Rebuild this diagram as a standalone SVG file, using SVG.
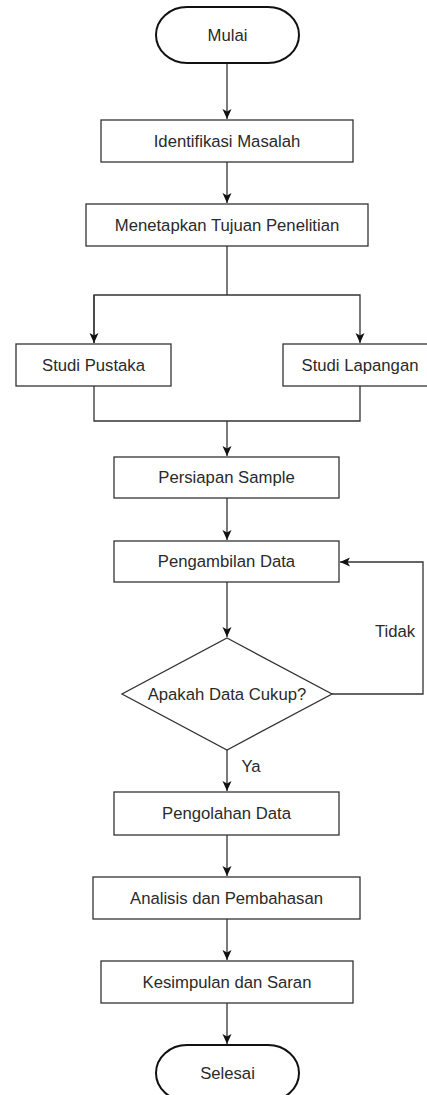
<svg xmlns="http://www.w3.org/2000/svg" width="427" height="1095" viewBox="0 0 427 1095">
<style>
.box{fill:#fff;stroke:#333;stroke-width:1.3}
.term{fill:#fff;stroke:#111;stroke-width:2}
.lbl{font-family:"Liberation Sans",Arial,sans-serif;font-size:16.7px;fill:#2a2a2a;text-anchor:middle;dominant-baseline:central}
.edge{fill:none;stroke:#333;stroke-width:1.3}
</style>
<defs>
<marker id="arr" markerUnits="userSpaceOnUse" markerWidth="12" markerHeight="12" viewBox="0 0 12 12" refX="10" refY="6" orient="auto">
<path d="M0,1.5 L10,6 L0,10.5 L2.5,6 Z" fill="#111"/>
</marker>
</defs>
<rect width="427" height="1095" fill="#fff"/>
<g id="connectors">
<path class="edge" d="M227,63 V119" marker-end="url(#arr)"/>
<path class="edge" d="M227,162 V203" marker-end="url(#arr)"/>
<path class="edge" d="M227,246 V295"/>
<path class="edge" d="M94,343 V295 H360 V343" marker-end="url(#arr)"/>
<path class="edge" d="M94,295 V343" marker-end="url(#arr)"/>
<path class="edge" d="M94,386 V421 H360 V386"/>
<path class="edge" d="M227,421 V456" marker-end="url(#arr)"/>
<path class="edge" d="M227,498 V540" marker-end="url(#arr)"/>
<path class="edge" d="M227,582 V637" marker-end="url(#arr)"/>
<path class="edge" d="M332,694 H423 V562 H340" marker-end="url(#arr)"/>
<path class="edge" d="M227,750 V791" marker-end="url(#arr)"/>
<path class="edge" d="M227,835 V876" marker-end="url(#arr)"/>
<path class="edge" d="M227,919 V960" marker-end="url(#arr)"/>
<path class="edge" d="M227,1003 V1044" marker-end="url(#arr)"/>
<text class="lbl" x="395" y="631">Tidak</text>
<text class="lbl" x="251" y="766">Ya</text>
</g>
<g id="mulai">
<path class="term" d="M187,7 H268 A31,28 0 0 1 268,63 H187 A31,28 0 0 1 187,7 Z"/>
<text class="lbl" x="227.5" y="35">Mulai</text>
</g>
<g id="identifikasi">
<rect class="box" x="101" y="120" width="252" height="42"/>
<text class="lbl" x="227" y="141">Identifikasi Masalah</text>
</g>
<g id="menetapkan">
<rect class="box" x="86" y="204" width="282" height="42"/>
<text class="lbl" x="227" y="225">Menetapkan Tujuan Penelitian</text>
</g>
<g id="pustaka">
<rect class="box" x="16" y="344" width="155" height="42"/>
<text class="lbl" x="93.5" y="365">Studi Pustaka</text>
</g>
<g id="lapangan">
<rect class="box" x="283" y="344" width="155" height="42"/>
<text class="lbl" x="360" y="365">Studi Lapangan</text>
</g>
<g id="persiapan">
<rect class="box" x="114" y="457" width="225" height="41"/>
<text class="lbl" x="226.5" y="477.5">Persiapan Sample</text>
</g>
<g id="pengambilan">
<rect class="box" x="114" y="541" width="225" height="41"/>
<text class="lbl" x="226.5" y="561.5">Pengambilan Data</text>
</g>
<g id="cukup">
<path class="box" d="M227,638 L332,694 L227,750 L122,694 Z"/>
<text class="lbl" x="227" y="694">Apakah Data Cukup?</text>
</g>
<g id="pengolahan">
<rect class="box" x="114" y="792" width="225" height="43"/>
<text class="lbl" x="226.5" y="813.5">Pengolahan Data</text>
</g>
<g id="analisis">
<rect class="box" x="93" y="877" width="267" height="42"/>
<text class="lbl" x="226.5" y="898">Analisis dan Pembahasan</text>
</g>
<g id="kesimpulan">
<rect class="box" x="101" y="961" width="252" height="42"/>
<text class="lbl" x="227" y="982">Kesimpulan dan Saran</text>
</g>
<g id="selesai">
<path class="term" d="M187,1045 H268 A31,28 0 0 1 268,1101 H187 A31,28 0 0 1 187,1045 Z"/>
<text class="lbl" x="227.5" y="1073">Selesai</text>
</g>
</svg>
